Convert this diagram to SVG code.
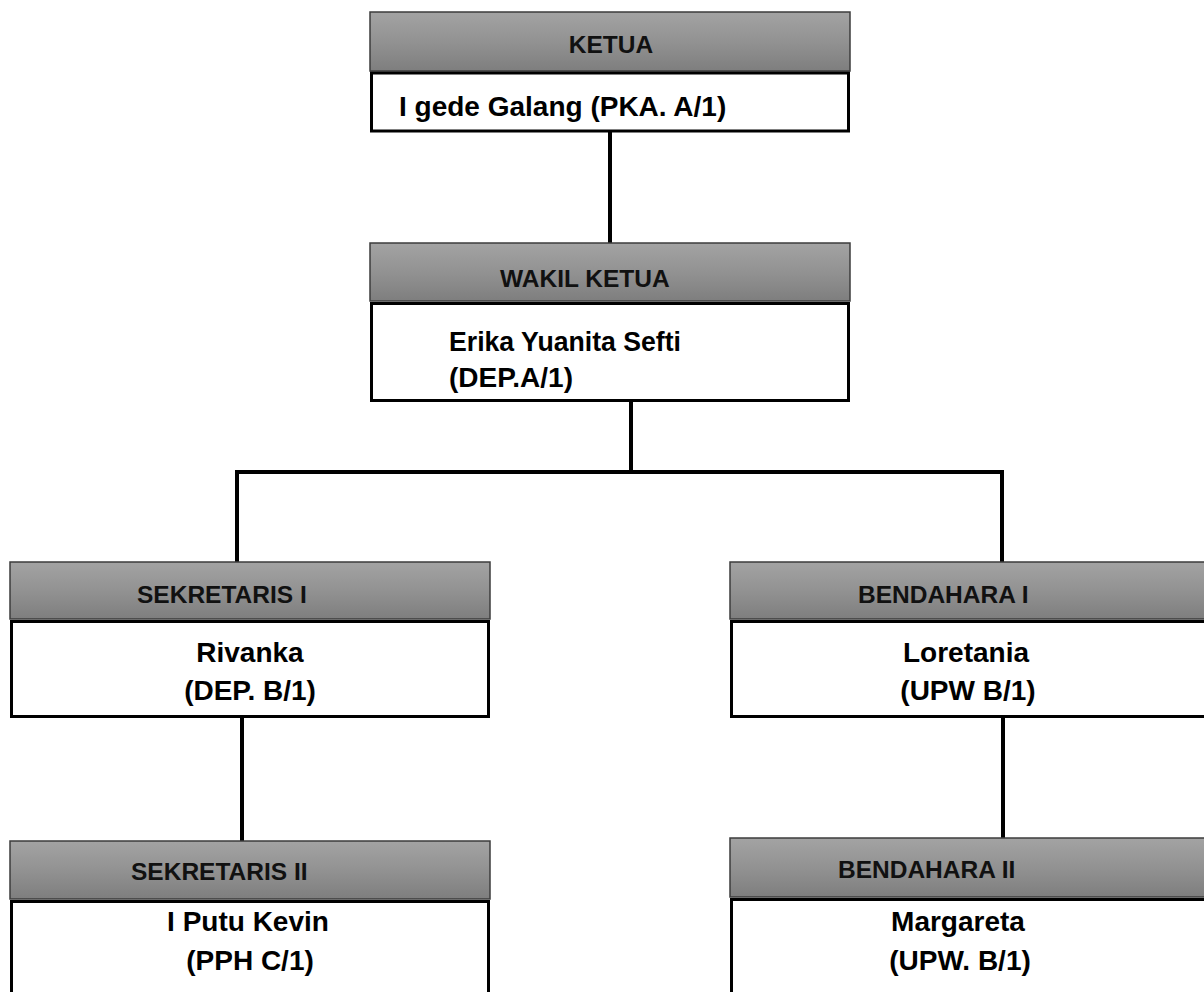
<svg xmlns="http://www.w3.org/2000/svg" width="1204" height="992" viewBox="0 0 1204 992">
<defs>
<linearGradient id="hg" x1="0" y1="0" x2="0" y2="1">
<stop offset="0" stop-color="#a3a3a3"/>
<stop offset="0.5" stop-color="#929292"/>
<stop offset="1" stop-color="#7e7e7e"/>
</linearGradient>
</defs>
<style>
.hd{fill:url(#hg);stroke:#3c3c3c;stroke-width:1.5}
.bd{fill:#ffffff;stroke:#000000;stroke-width:3}
.ht{font-family:"Liberation Sans",Arial,sans-serif;font-weight:bold;font-size:24.5px;fill:#111111}
.bt{font-family:"Liberation Sans",Arial,sans-serif;font-weight:bold;font-size:28px;fill:#000000}
.c{text-anchor:middle}
.ln{fill:none;stroke:#000000;stroke-width:4}
</style>
<rect width="1204" height="992" fill="#ffffff"/>
<g id="connectors">
<line class="ln" x1="610" y1="131" x2="610" y2="243"/>
<line class="ln" x1="631" y1="401" x2="631" y2="472"/>
<polyline class="ln" points="237,562 237,472 1002,472 1002,562"/>
<line class="ln" x1="242" y1="717" x2="242" y2="841"/>
<line class="ln" x1="1003" y1="717" x2="1003" y2="838"/>
</g>
<g id="ketua">
<rect class="hd" x="370" y="12" width="480" height="59"/>
<text class="ht c" x="611" y="53">KETUA</text>
<rect class="bd" x="371.5" y="73" width="477" height="58"/>
<text class="bt" x="399" y="116">I gede Galang (PKA. A/1)</text>
</g>
<g id="wakil-ketua">
<rect class="hd" x="370" y="243" width="480" height="58"/>
<text class="ht" x="500" y="287">WAKIL KETUA</text>
<rect class="bd" x="371.5" y="303.5" width="477" height="97"/>
<text class="bt" x="449" y="351" textLength="232" lengthAdjust="spacingAndGlyphs">Erika Yuanita Sefti</text>
<text class="bt" x="449" y="387">(DEP.A/1)</text>
</g>
<g id="sekretaris-1">
<rect class="hd" x="10" y="562" width="480" height="57"/>
<text class="ht" x="137" y="603">SEKRETARIS I</text>
<rect class="bd" x="11.5" y="621.5" width="477" height="95"/>
<text class="bt c" x="250" y="662">Rivanka</text>
<text class="bt c" x="250" y="700">(DEP. B/1)</text>
</g>
<g id="bendahara-1">
<rect class="hd" x="730" y="562" width="480" height="57"/>
<text class="ht" x="858" y="603">BENDAHARA I</text>
<rect class="bd" x="731.5" y="621.5" width="477" height="95"/>
<text class="bt c" x="966" y="662">Loretania</text>
<text class="bt c" x="968" y="700">(UPW B/1)</text>
</g>
<g id="sekretaris-2">
<rect class="hd" x="10" y="841" width="480" height="58"/>
<text class="ht" x="131" y="880">SEKRETARIS II</text>
<rect class="bd" x="11.5" y="901.5" width="477" height="110"/>
<text class="bt c" x="248" y="931">I Putu Kevin</text>
<text class="bt c" x="250" y="970">(PPH C/1)</text>
</g>
<g id="bendahara-2">
<rect class="hd" x="730" y="838" width="480" height="59"/>
<text class="ht" x="838" y="878">BENDAHARA II</text>
<rect class="bd" x="731.5" y="899.5" width="477" height="110"/>
<text class="bt c" x="958" y="931">Margareta</text>
<text class="bt c" x="960" y="970">(UPW. B/1)</text>
</g>
</svg>
